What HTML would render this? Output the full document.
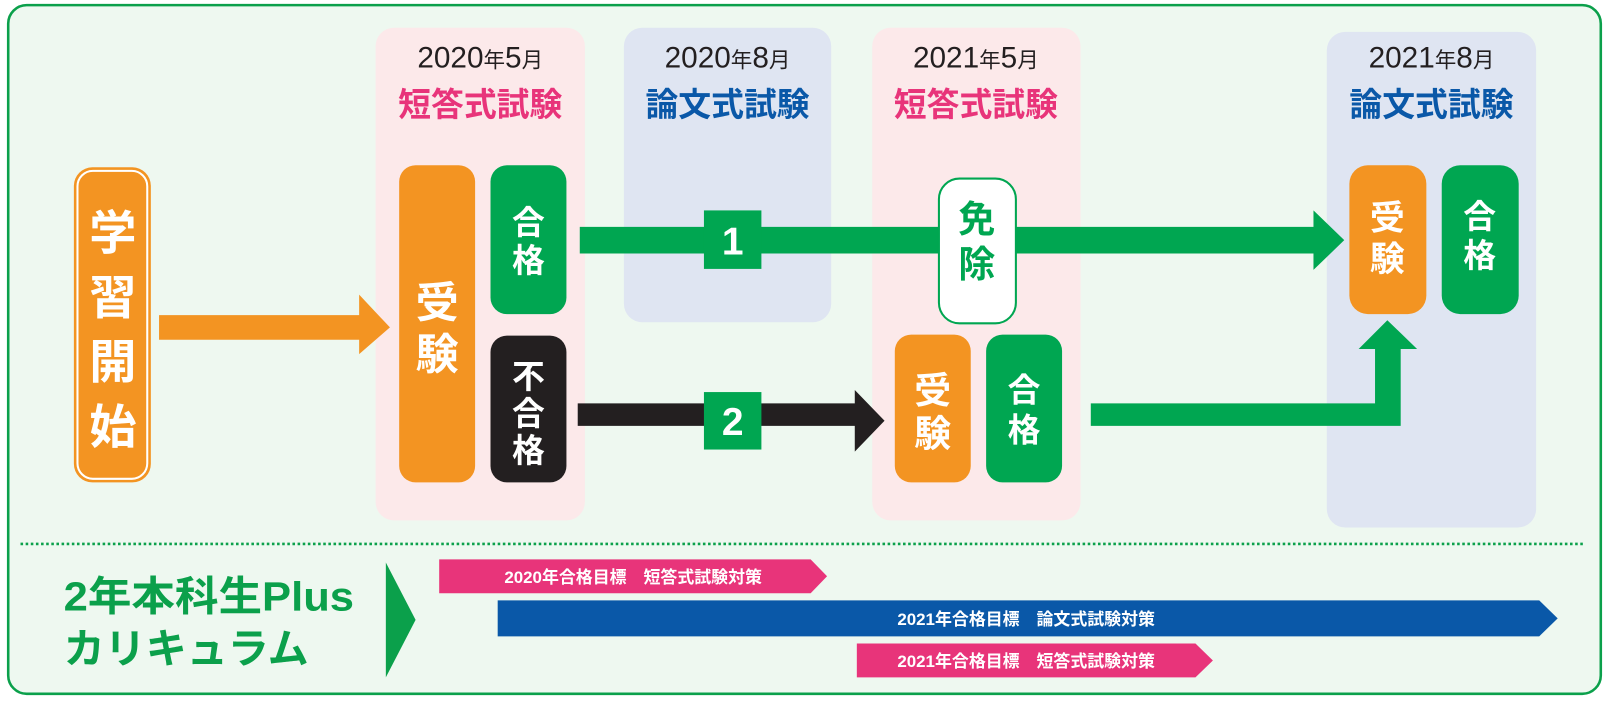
<!DOCTYPE html>
<html><head><meta charset="utf-8"><style>
html,body{margin:0;padding:0;background:#fff;}
svg{display:block}
text{font-family:"Liberation Sans","Noto Sans CJK JP",sans-serif;font-weight:bold;}
</style></head><body>
<svg width="1609" height="701" viewBox="0 0 1568 683" preserveAspectRatio="none" xmlns="http://www.w3.org/2000/svg">
<rect x="8" y="5" width="1552" height="671" rx="18" fill="#eef8f0" stroke="#0ba04b" stroke-width="2.5"/>
<!-- panels -->
<rect x="366" y="27" width="204" height="480" rx="18" fill="#fce9ea"/>
<rect x="608" y="27" width="202" height="287" rx="18" fill="#dfe5f2"/>
<rect x="850" y="27" width="203" height="480" rx="18" fill="#fce9ea"/>
<rect x="1293" y="31" width="204" height="483" rx="18" fill="#dfe5f2"/>
<!-- titles -->
<g font-size="29" fill="#231f20" text-anchor="middle" style="font-weight:normal">
<text x="468" y="66" style="font-weight:normal">2020<tspan font-size="21">年</tspan>5<tspan font-size="21">月</tspan></text>
<text x="709" y="66" style="font-weight:normal">2020<tspan font-size="21">年</tspan>8<tspan font-size="21">月</tspan></text>
<text x="951" y="66" style="font-weight:normal">2021<tspan font-size="21">年</tspan>5<tspan font-size="21">月</tspan></text>
<text x="1395" y="66" style="font-weight:normal">2021<tspan font-size="21">年</tspan>8<tspan font-size="21">月</tspan></text>
</g>
<g font-size="32" text-anchor="middle" font-weight="900">
<text x="468" y="113" fill="#e8347a">短答式試験</text>
<text x="709" y="113" fill="#0a58a8">論文式試験</text>
<text x="951" y="113" fill="#e8347a">短答式試験</text>
<text x="1395" y="113" fill="#0a58a8">論文式試験</text>
</g>
<!-- 学習開始 -->
<rect x="72" y="163" width="75" height="307" rx="18" fill="#f39422"/>
<rect x="75.5" y="166.5" width="68" height="300" rx="15" fill="none" stroke="#fff" stroke-width="2"/>
<g font-size="46" fill="#fff" text-anchor="middle">
<text x="110" y="243">学</text><text x="110" y="306">習</text><text x="110" y="369">開</text><text x="110" y="432">始</text>
</g>
<!-- orange arrow -->
<polygon points="155,307 350,307 350,287 380,319 350,345 350,331 155,331" fill="#f39422"/>
<!-- boxes panel1 -->
<rect x="389" y="161" width="74" height="309" rx="16" fill="#f39422"/>
<g font-size="42" fill="#fff" text-anchor="middle"><text x="426" y="310">受</text><text x="426" y="360">験</text></g>
<rect x="478" y="161" width="74" height="145" rx="16" fill="#00a651"/>
<g font-size="32" fill="#fff" text-anchor="middle"><text x="515" y="228">合</text><text x="515" y="265">格</text></g>
<rect x="478" y="327" width="74" height="143" rx="16" fill="#231f20"/>
<g font-size="32" fill="#fff" text-anchor="middle"><text x="515" y="378">不</text><text x="515" y="414">合</text><text x="515" y="450">格</text></g>
<!-- arrow 1 -->
<polygon points="565,221 1280,221 1280,205 1310,234 1280,263 1280,247 565,247" fill="#00a651"/>
<rect x="686" y="205" width="56" height="57" fill="#00a651"/>
<text x="714" y="248" font-size="38" fill="#fff" text-anchor="middle">1</text>
<!-- 免除 -->
<rect x="915" y="174" width="75" height="141" rx="20" fill="#fff" stroke="#00a651" stroke-width="2"/>
<g font-size="36" fill="#00a651" text-anchor="middle" font-weight="900"><text x="952" y="226">免</text><text x="952" y="270">除</text></g>
<!-- arrow 2 -->
<polygon points="563,393 833,393 833,380 862,410 833,440 833,415 563,415" fill="#231f20"/>
<rect x="686" y="382" width="56" height="56" fill="#00a651"/>
<text x="714" y="424" font-size="38" fill="#fff" text-anchor="middle">2</text>
<!-- panel3 boxes -->
<rect x="872" y="326" width="74" height="144" rx="16" fill="#f39422"/>
<g font-size="36" fill="#fff" text-anchor="middle"><text x="909" y="393">受</text><text x="909" y="435">験</text></g>
<rect x="961" y="326" width="74" height="144" rx="16" fill="#00a651"/>
<g font-size="32" fill="#fff" text-anchor="middle"><text x="998" y="391">合</text><text x="998" y="430">格</text></g>
<!-- green elbow arrow -->
<polygon points="1063,393 1340,393 1340,340 1324,340 1352,312 1381,340 1365,340 1365,415 1063,415" fill="#00a651"/>
<!-- panel4 boxes -->
<rect x="1315" y="161" width="75" height="145" rx="18" fill="#f39422"/>
<g font-size="34" fill="#fff" text-anchor="middle"><text x="1352" y="224">受</text><text x="1352" y="264">験</text></g>
<rect x="1405" y="161" width="75" height="145" rx="18" fill="#00a651"/>
<g font-size="32" fill="#fff" text-anchor="middle"><text x="1442" y="222">合</text><text x="1442" y="260">格</text></g>
<!-- dotted line -->
<line x1="20" y1="530" x2="1545" y2="530" stroke="#0ba04b" stroke-width="2.5" stroke-dasharray="2.5 2.5"/>
<!-- curriculum -->
<g font-size="40" fill="#0ba04b" font-weight="900"><text x="62" y="595" textLength="283" lengthAdjust="spacingAndGlyphs">2年本科生Plus</text><text x="62" y="646">カリキュラム</text></g>
<polygon points="376,548 405,604 376,660" fill="#0ba04b"/>
<polygon points="428,545 790,545 806,561.5 790,578 428,578" fill="#e8347a"/>
<text x="617" y="568" font-size="16.5" fill="#fff" text-anchor="middle">2020年合格目標　短答式試験対策</text>
<polygon points="485,585 1500,585 1518,602.5 1500,620 485,620" fill="#0a58a8"/>
<text x="1000" y="609" font-size="16.5" fill="#fff" text-anchor="middle">2021年合格目標　論文式試験対策</text>
<polygon points="835,627 1165,627 1182,643.5 1165,660 835,660" fill="#e8347a"/>
<text x="1000" y="650" font-size="16.5" fill="#fff" text-anchor="middle">2021年合格目標　短答式試験対策</text>
</svg>
</body></html>
